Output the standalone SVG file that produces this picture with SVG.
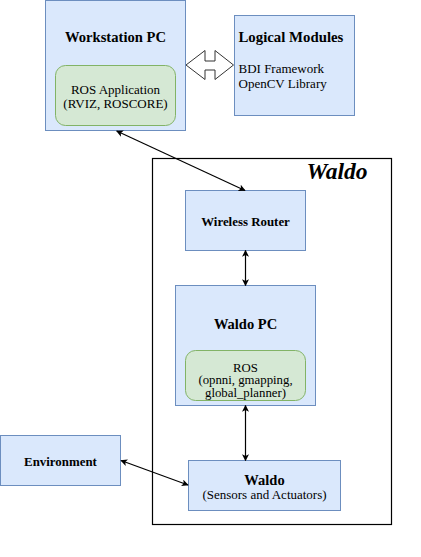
<svg xmlns="http://www.w3.org/2000/svg" width="421" height="557" viewBox="0 0 421 557">
<style>
.blue{fill:#dae8fc;stroke:#6c8ebf;stroke-width:1}
.green{fill:#d5e8d4;stroke:#82b366;stroke-width:1}
text{font-family:"Liberation Serif","Times New Roman",serif;fill:#000}
.b{font-weight:bold}
.c{text-anchor:middle}
.r{font-size:13px}
.conn{stroke:#000;stroke-width:1.2;fill:none;marker-start:url(#ah);marker-end:url(#ah)}
</style>
<defs>
<marker id="ah" viewBox="0 0 10 10" refX="9" refY="5" markerWidth="7" markerHeight="7" markerUnits="userSpaceOnUse" orient="auto-start-reverse">
<path d="M0,0 L10,5 L0,10 L2.5,5 Z" fill="#000"/>
</marker>
</defs>
<rect width="421" height="557" fill="#fff"/>

<g id="workstation">
<rect class="blue" x="45.5" y="0.5" width="140" height="130"/>
<text class="b c" x="115.5" y="41.5" font-size="14.6">Workstation PC</text>
</g>
<g id="ros-app">
<rect class="green" x="55.5" y="65.5" width="120" height="60" rx="10"/>
<text class="r c" x="115.5" y="93.5">ROS Application</text>
<text class="r c" x="115.5" y="108">(RVIZ, ROSCORE)</text>
</g>
<g id="logical">
<rect class="blue" x="234.5" y="15.5" width="120" height="100"/>
<text class="b" x="238.5" y="41.5" font-size="14.8">Logical Modules</text>
<text class="r" x="238.5" y="72.5">BDI Framework</text>
<text class="r" x="238.5" y="87.5">OpenCV Library</text>
</g>
<g id="waldo-container">
<rect x="152.5" y="158.5" width="239" height="366" fill="none" stroke="#000" stroke-width="1.2"/>
<text x="306.5" y="179" font-size="23.5" font-weight="bold" font-style="italic">Waldo</text>
</g>
<g id="router">
<rect class="blue" x="185.5" y="190.5" width="120" height="60"/>
<text class="b c" x="245.5" y="226" font-size="12.9">Wireless Router</text>
</g>
<g id="waldo-pc">
<rect class="blue" x="175.5" y="285.5" width="140" height="120"/>
<text class="b c" x="245.5" y="328.5" font-size="14.5">Waldo PC</text>
</g>
<g id="ros">
<rect class="green" x="185.5" y="350.5" width="120" height="50" rx="10"/>
<text class="c" x="245.5" y="371.5" font-size="12.8">ROS</text>
<text class="c" x="245.5" y="384" font-size="12.8">(opnni, gmapping,</text>
<text class="c" x="245.5" y="396.5" font-size="12.8">global_planner)</text>
</g>
<g id="waldo">
<rect class="blue" x="188.5" y="460.5" width="152" height="50"/>
<text class="b c" x="264.5" y="484.5" font-size="14.5">Waldo</text>
<text class="r c" x="264.5" y="498.5">(Sensors and Actuators)</text>
</g>
<g id="environment">
<rect class="blue" x="0.5" y="435.5" width="120" height="50"/>
<text class="b c" x="60.5" y="466" font-size="12.9">Environment</text>
</g>

<g id="connectors">
<path d="M186,65 L205,50.5 L205,61 L215,61 L215,50.5 L233.5,65 L215,79.5 L215,70 L205,70 L205,79.5 Z" fill="#fff" stroke="#333" stroke-width="1"/>
<line class="conn" x1="116.7" y1="131" x2="245" y2="190.5"/>
<line class="conn" x1="245.5" y1="250.5" x2="245.5" y2="285.5"/>
<line class="conn" x1="245.5" y1="405.5" x2="245.5" y2="460.5"/>
<line class="conn" x1="121" y1="460.5" x2="188" y2="485"/>
</g>
</svg>
